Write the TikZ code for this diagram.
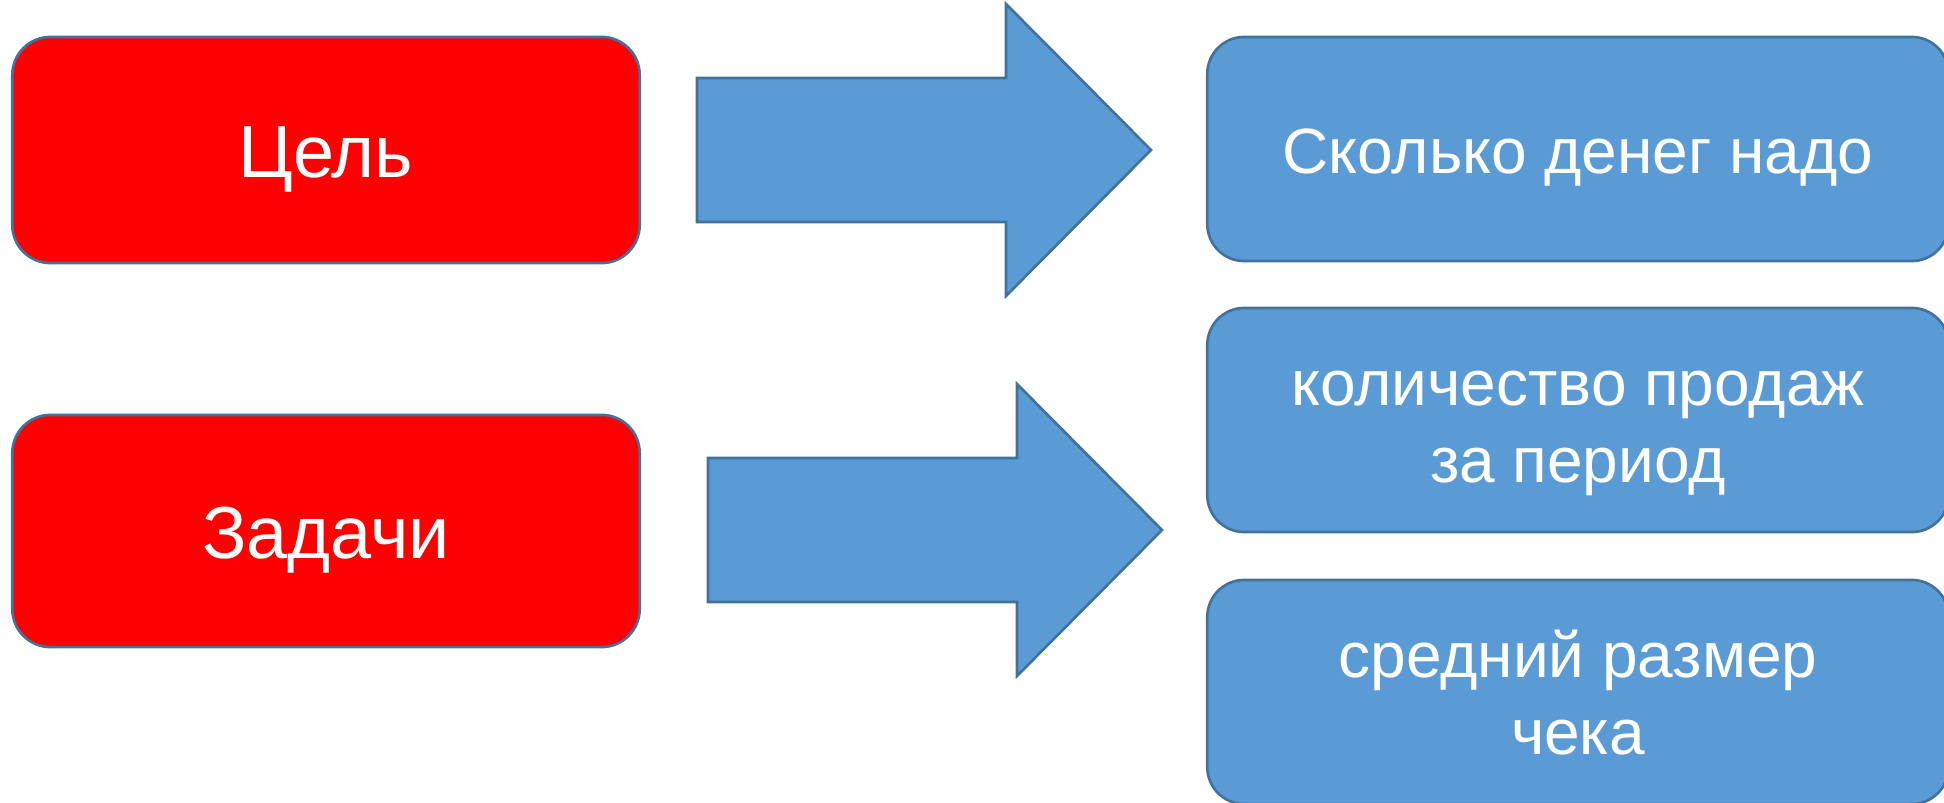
\documentclass[tikz,border=0pt]{standalone}
\usepackage{fontspec}
\setmainfont{Liberation Sans}
\usepackage{tikz}
\usetikzlibrary{positioning}
\definecolor{goalred}{HTML}{FF0000}
\definecolor{itemblue}{HTML}{5B9BD5}
\definecolor{edgeblue}{HTML}{41719C}
\newcommand{\topstrut}{\rule{0pt}{1em}}
\newcommand{\botstrut}{\rule[-0.25em]{0pt}{0.25em}}
\tikzset{every node/.append style={transform shape=false}}
\tikzset{goalbox/.style={draw=edgeblue, line width=0.75pt, fill=goalred,
    rounded corners=0.38cm, minimum width=6.27cm, text=white, align=center,
    font=\fontsize{21}{25}\selectfont}}
\tikzset{itembox/.style={draw=edgeblue, line width=0.75pt, fill=itemblue,
    rounded corners=0.37cm, minimum width=7.41cm, minimum height=2.24cm,
    text=white, align=center, font=\fontsize{18.2}{21.9}\selectfont}}
\tikzset{bigarrow/.style={draw=edgeblue, line width=0.75pt, fill=itemblue,
    line join=miter}}

\begin{document}
\begin{tikzpicture}[x=0.01cm,y=-0.01cm]
  \useasboundingbox (0,0) rectangle (1944,803);

  \node[goalbox, minimum height=2.26cm] (goal) at (326,150)
    {\topstrut Цель\botstrut};
  \node[goalbox, minimum height=2.32cm] (tasks) at (326,531)
    {\topstrut Задачи\botstrut};

  \node[itembox] (money) at (1578,149) {\topstrut Сколько денег надо\botstrut};
  \node[itembox] (sales) at (1578,420)
    {\topstrut количество продаж\\за период\botstrut};
  \node[itembox] (check) at (1578,692)
    {\topstrut средний размер\\чека\botstrut};

  \foreach \xa/\ya in {697/150, 708/530}{
    \draw[bigarrow] (\xa,\ya-72) -- (\xa+309,\ya-72) -- (\xa+309,\ya-146)
      -- (\xa+454,\ya) -- (\xa+309,\ya+146) -- (\xa+309,\ya+72)
      -- (\xa,\ya+72) -- cycle;
  };
\end{tikzpicture}
\end{document}
